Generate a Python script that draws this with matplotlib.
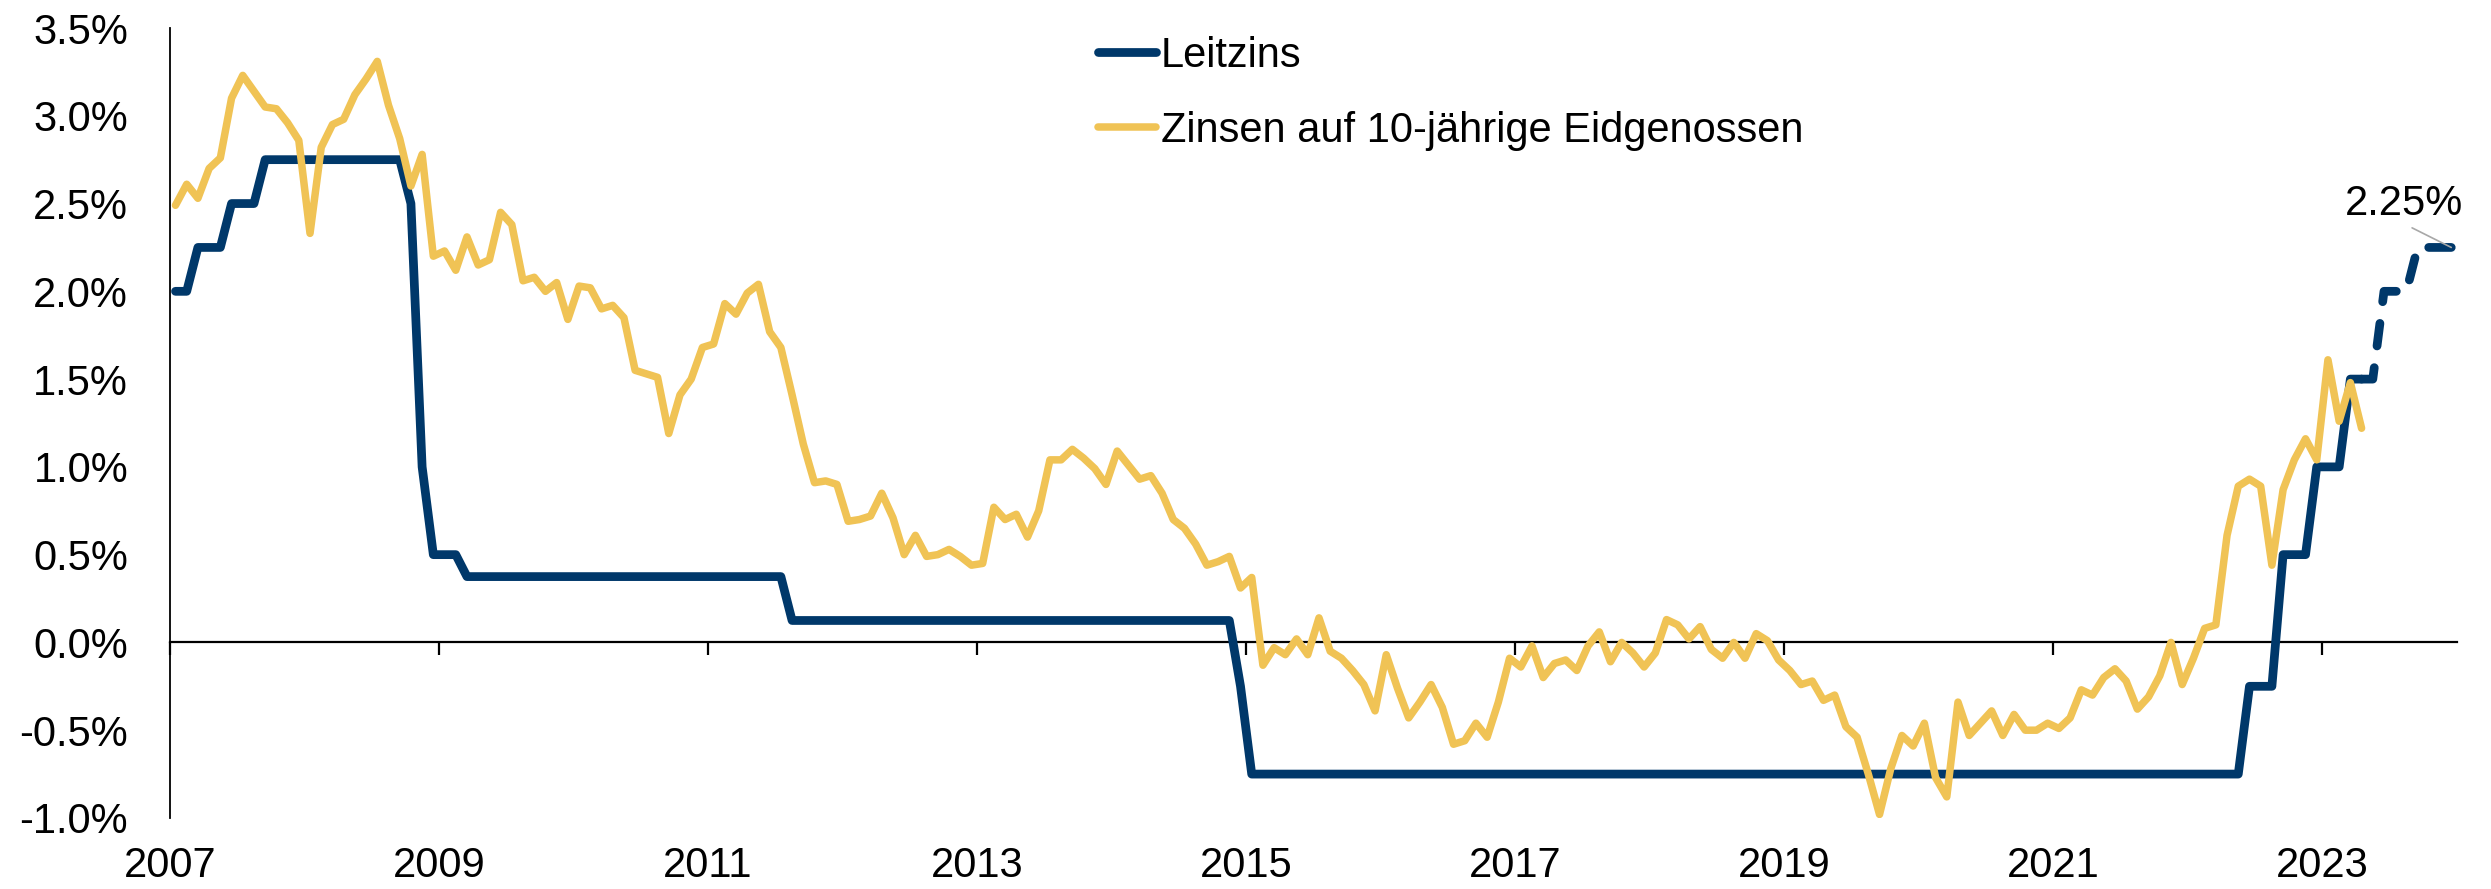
import matplotlib
matplotlib.use("Agg")
import matplotlib.pyplot as plt
import numpy as np
from matplotlib.ticker import FuncFormatter

plt.rcParams["font.family"] = ["Liberation Sans", "DejaVu Sans"]
plt.rcParams["axes.unicode_minus"] = False

# ---------------- data ----------------
start_year = 2007  # monthly series, first value = January 2007
series_labels = ["Leitzins", "Zinsen auf 10-jährige Eidgenossen"]

# SNB policy rate (monthly, Jan 2007 - Apr 2023)
leitzins = ([2.0] * 2 + [2.25] * 3 + [2.5] * 3 + [2.75] * 13 + [2.5] + [1.0] +
            [0.5] * 3 + [0.375] * 29 + [0.125] * 40 + [-0.25] + [-0.75] * 89 +
            [-0.25] * 3 + [0.5] * 3 + [1.0] * 3 + [1.5] * 2)

# forecast of policy rate (Apr 2023 - Dec 2023)
leitzins_prognose = [1.5, 1.5, 2.0, 2.0, 2.0, 2.25, 2.25, 2.25, 2.25]

# 10-year Swiss government bond yield (monthly, Jan 2007 - Apr 2023)
rendite_10j = [
    2.49, 2.61, 2.53, 2.70, 2.76, 3.10, 3.23, 3.14, 3.05, 3.04, 2.96, 2.86,
    2.33, 2.82, 2.95, 2.98, 3.12, 3.21, 3.31, 3.06, 2.87, 2.60, 2.78, 2.20,
    2.23, 2.12, 2.31, 2.15, 2.18, 2.45, 2.38, 2.06, 2.08, 2.00, 2.05, 1.84,
    2.03, 2.02, 1.90, 1.92, 1.85, 1.55, 1.53, 1.51, 1.19, 1.41, 1.50, 1.68,
    1.70, 1.93, 1.87, 1.99, 2.04, 1.77, 1.68, 1.41, 1.13, 0.91, 0.92, 0.90,
    0.69, 0.70, 0.72, 0.85, 0.71, 0.50, 0.61, 0.49, 0.50, 0.53, 0.49, 0.44,
    0.45, 0.77, 0.70, 0.73, 0.60, 0.75, 1.04, 1.04, 1.10, 1.05, 0.99, 0.90,
    1.09, 1.01, 0.93, 0.95, 0.85, 0.70, 0.65, 0.56, 0.44, 0.46, 0.49, 0.31,
    0.37, -0.13, -0.03, -0.07, 0.02, -0.07, 0.14, -0.05, -0.09, -0.16, -0.24, -0.39,
    -0.07, -0.26, -0.43, -0.34, -0.24, -0.37, -0.58, -0.56, -0.46, -0.54, -0.34, -0.09,
    -0.14, -0.02, -0.20, -0.12, -0.10, -0.16, -0.02, 0.06, -0.11, 0.00, -0.06, -0.14,
    -0.06, 0.13, 0.10, 0.02, 0.09, -0.04, -0.09, 0.00, -0.09, 0.05, 0.01, -0.10,
    -0.16, -0.24, -0.22, -0.33, -0.30, -0.48, -0.54, -0.75, -0.98, -0.72, -0.53, -0.59,
    -0.46, -0.77, -0.88, -0.34, -0.53, -0.46, -0.39, -0.53, -0.41, -0.50, -0.50, -0.46,
    -0.49, -0.43, -0.27, -0.30, -0.20, -0.15, -0.22, -0.38, -0.31, -0.19, 0.00, -0.24,
    -0.09, 0.08, 0.10, 0.61, 0.89, 0.93, 0.89, 0.44, 0.87, 1.04, 1.16, 1.04,
    1.61, 1.26, 1.48, 1.22,
]

x_ticks = list(range(2007, 2024, 2))
y_ticks = [-1.0, -0.5, 0.0, 0.5, 1.0, 1.5, 2.0, 2.5, 3.0, 3.5]
annot_text = "2.25%"

# ---------------- styling ----------------
NAVY = "#00386A"
YELLOW = "#F0C355"
FS = 30

fig = plt.figure(figsize=(24.91, 8.89), dpi=100)
ax = fig.add_axes([0.0682, 0.0799, 0.9181, 0.8886])

x_hist = start_year + (np.arange(len(leitzins)) + 0.5) / 12
x_yield = start_year + (np.arange(len(rendite_10j)) + 0.5) / 12
fc_start = len(leitzins) - 1
x_fc = start_year + (fc_start + np.arange(len(leitzins_prognose)) + 0.5) / 12

l1, = ax.plot(x_hist, leitzins, color=NAVY, lw=6.3, solid_joinstyle="round",
              solid_capstyle="round", zorder=3, label=series_labels[0])
ax.plot(x_fc, leitzins_prognose, color=NAVY, lw=6.3, dashes=(2.6, 2.5),
        dash_capstyle="round", dash_joinstyle="round", zorder=3)
l2, = ax.plot(x_yield, rendite_10j, color=YELLOW, lw=5.4, solid_joinstyle="round",
              solid_capstyle="round", zorder=4, label=series_labels[1])

ax.set_xlim(2007, 2024)
ax.set_ylim(-1.0, 3.5)

for s in ["top", "right"]:
    ax.spines[s].set_visible(False)
ax.spines["bottom"].set_position(("data", 0))
ax.spines["bottom"].set_linewidth(1.6)
ax.spines["left"].set_linewidth(1.3)

ax.set_xticks(x_ticks)
ax.set_xticklabels([str(t) for t in x_ticks])
ax.set_yticks(y_ticks)
ax.yaxis.set_major_formatter(FuncFormatter(lambda v, p: f"{v:.1f}%"))
ax.tick_params(axis="x", length=9.5, width=1.6, direction="out", pad=137,
               labelsize=FS, colors="black")
ax.tick_params(axis="y", length=0, pad=30, labelsize=FS, colors="black")

leg = ax.legend(handles=[l1, l2], loc="upper left", bbox_to_anchor=(0.4408, 0.960),
                bbox_transform=fig.transFigure, frameon=False, fontsize=FS,
                handlelength=1.4, handletextpad=0.1, labelspacing=0.85,
                borderaxespad=0, borderpad=0)

ax.annotate(annot_text, xy=(x_fc[-1], leitzins_prognose[-1]), xytext=(-34, 17),
            textcoords="offset points", ha="center", va="bottom", fontsize=FS,
            arrowprops=dict(arrowstyle="-", color="#A8A8A8", lw=1.2,
                            shrinkA=2, shrinkB=0, relpos=(0.5, 0.0)))

fig.savefig("out.png", dpi=100)
